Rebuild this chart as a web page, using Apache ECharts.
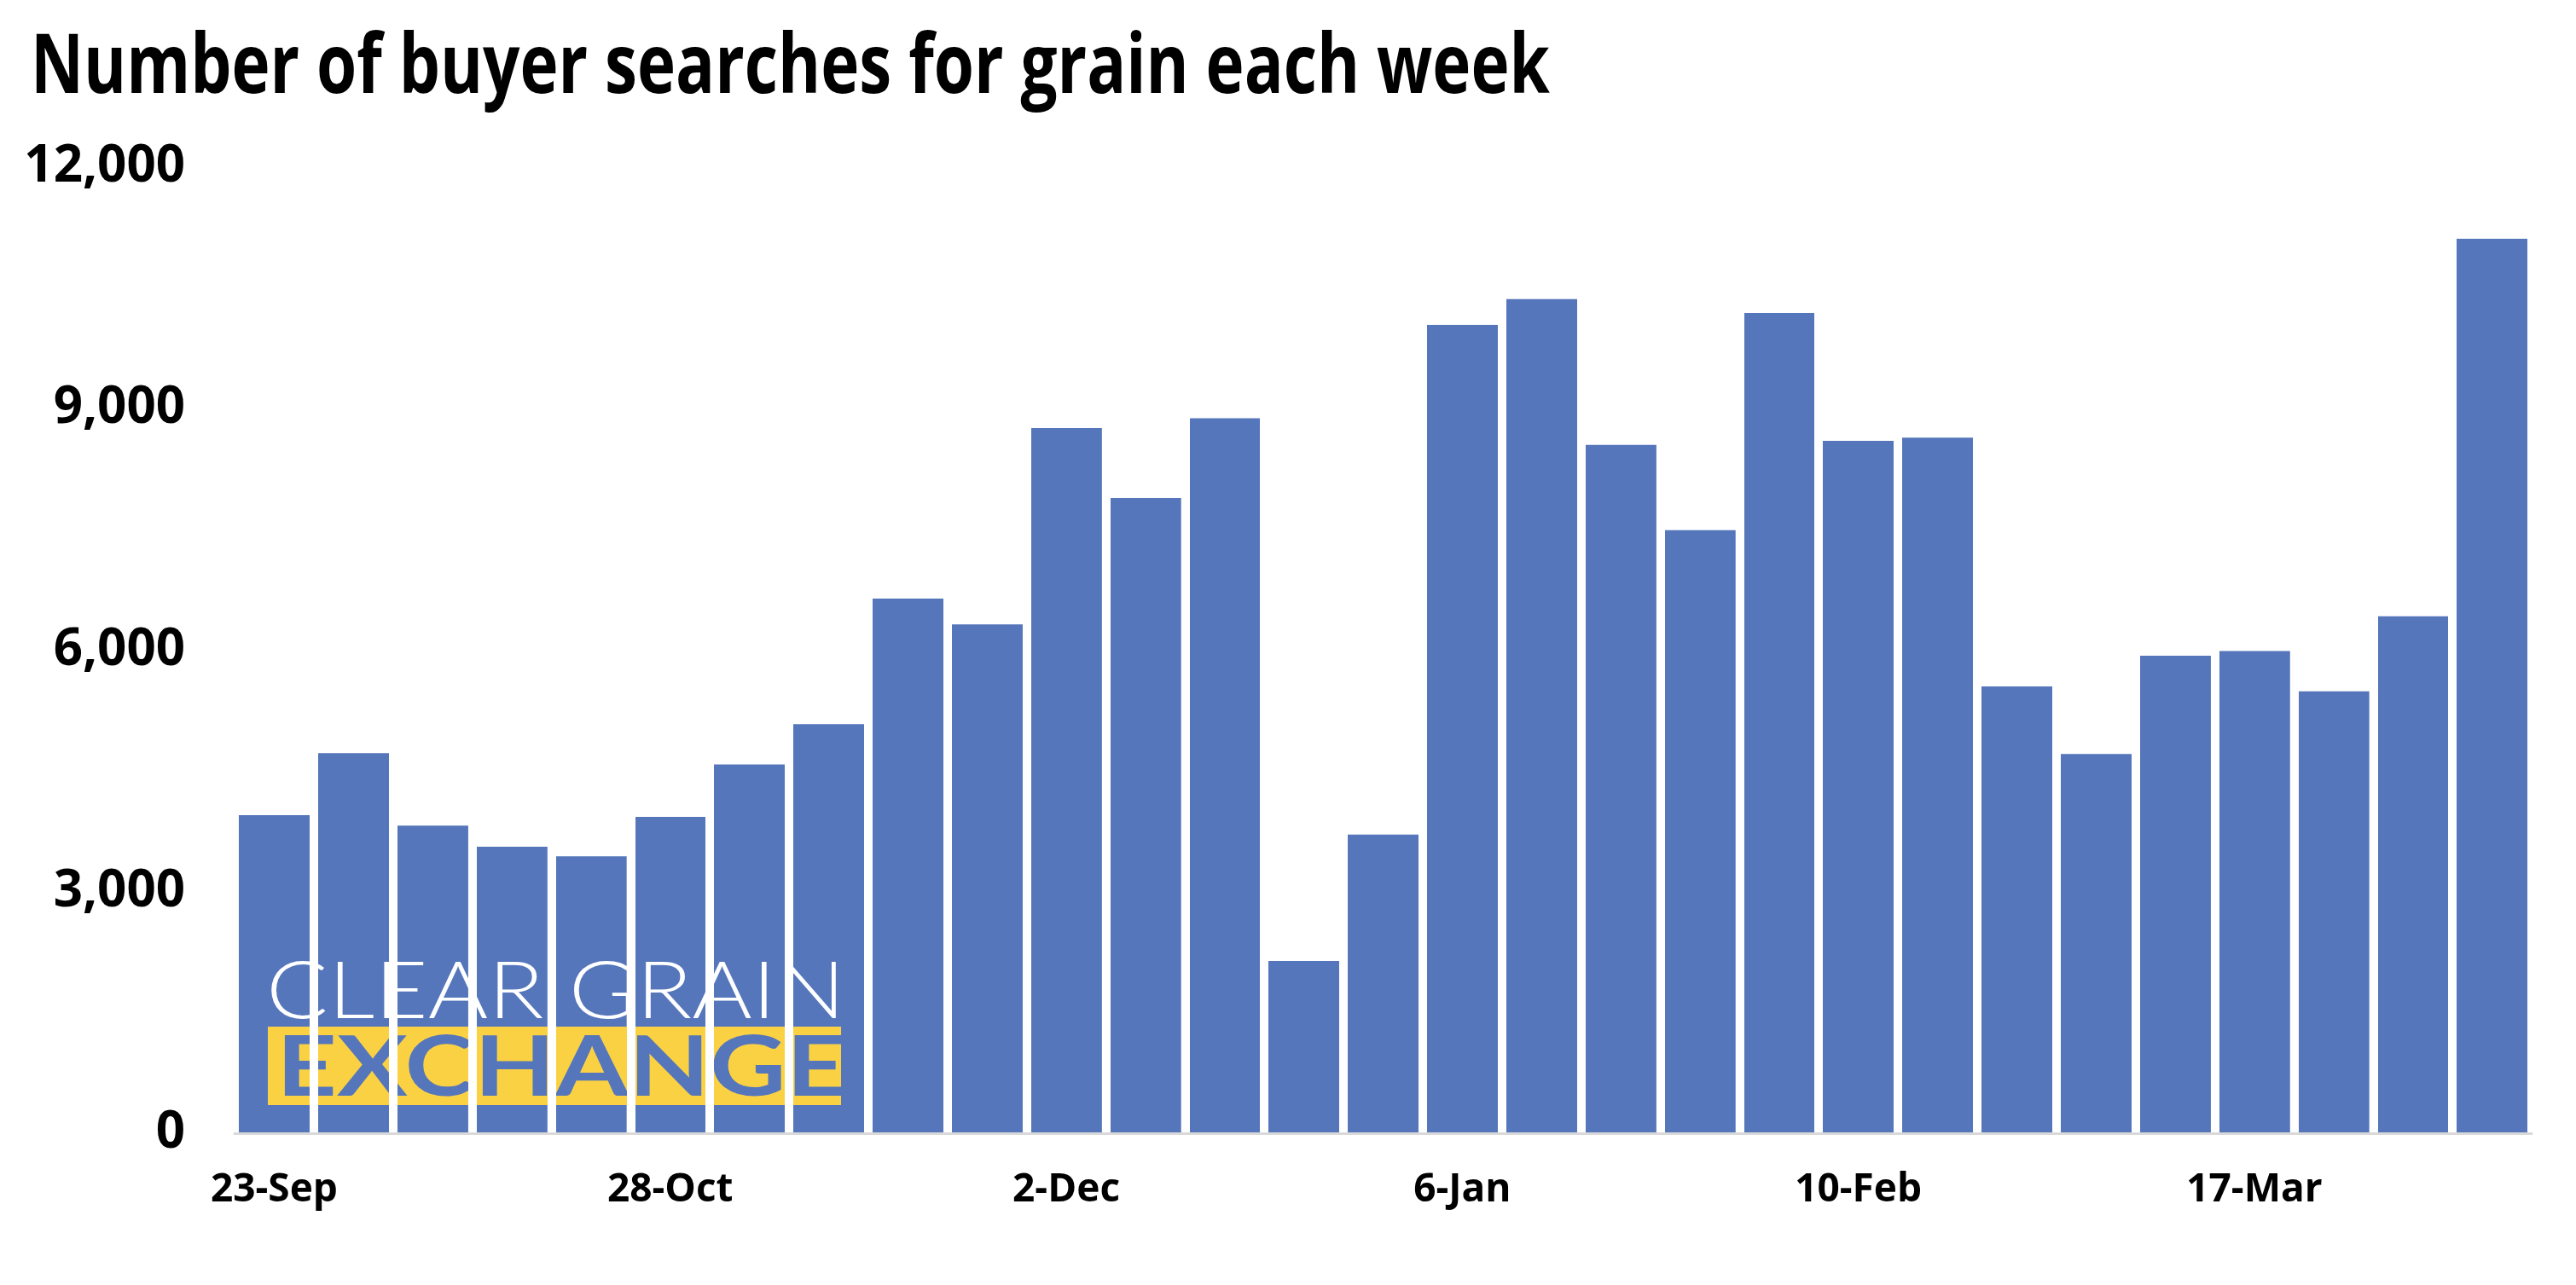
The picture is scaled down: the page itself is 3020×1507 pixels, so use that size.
<!DOCTYPE html>
<html>
<head>
<meta charset="utf-8">
<script src="https://cdn.jsdelivr.net/npm/echarts@6/dist/echarts.min.js"></script>
<style>
html,body{margin:0;padding:0;background:#fff;}
#chart{width:3020px;height:1507px;}
</style>
</head>
<body>
<div id="chart"></div>
<script>
const weeks = ['23-Sep','30-Sep','7-Oct','14-Oct','21-Oct','28-Oct','4-Nov','11-Nov','18-Nov','25-Nov',
  '2-Dec','9-Dec','16-Dec','23-Dec','30-Dec','6-Jan','13-Jan','20-Jan','27-Jan','3-Feb',
  '10-Feb','17-Feb','24-Feb','3-Mar','10-Mar','17-Mar','24-Mar','31-Mar','7-Apr'];
const searches = [3950,4720,3820,3560,3440,3930,4580,5080,6640,6320,
  8760,7890,8880,2140,3710,10040,10360,8550,7490,10190,
  8600,8640,5550,4710,5930,5990,5490,6420,11110];
const yTicks = [0,3000,6000,9000,12000];
const titleText = 'Number of buyer searches for grain each week';

const FONT = '"Open Sans","Noto Sans",sans-serif';
const BLUE = '#5576BB';
const YELLOW = '#FBD144';

const chart = echarts.init(document.getElementById('chart'));
chart.setOption({
  backgroundColor: '#fff',
  animation: false,
  grid: {left: 275, right: 52, top: 196, bottom: 178, containLabel: false},
  xAxis: {
    type: 'category',
    data: weeks,
    z: 10,
    axisLine: {show: true, lineStyle: {color: '#D9D9D9', width: 3}},
    axisTick: {show: false},
    axisLabel: {interval: 4, margin: 44, fontFamily: FONT, fontWeight: 'bold', fontSize: 46, color: '#000'},
    splitLine: {show: true, interval: 0, lineStyle: {color: '#fff', width: 10}}
  },
  yAxis: {
    type: 'value',
    min: yTicks[0], max: yTicks[yTicks.length-1], interval: yTicks[1]-yTicks[0],
    axisLine: {show: false},
    axisTick: {show: false},
    splitLine: {show: false},
    axisLabel: {
      margin: 58, fontFamily: FONT, fontWeight: 'bold', fontSize: 60, color: '#000',
      formatter: v => v.toLocaleString('en-US')
    }
  },
  series: [{
    type: 'bar',
    data: searches,
    barCategoryGap: '10%',
    itemStyle: {color: BLUE},
    z: 2
  }],
  graphic: {
    z: 5,
    elements: [
      {type: 'text', x: 36, y: 34, scaleX: 0.795, z: 6,
       style: {text: titleText, fill: '#000', font: 'bold 96px "Open Sans", sans-serif', textVerticalAlign: 'top'}},
      {type: 'rect', x: 314, y: 1204, shape: {width: 672, height: 92}, style: {fill: YELLOW}, z: 5},
      {type: 'text', x: 312, y: 1118, scaleX: 1.17, z: 6,
       style: {text: 'CLEAR GRAIN', fill: '#fff', font: '300 92px Lato, "Open Sans", sans-serif', textVerticalAlign: 'top'}},
      {type: 'text', x: 324, y: 1204, scaleX: 1.26, z: 6,
       style: {text: 'EXCHANGE', fill: BLUE, font: 'bold 98px Lato, "Open Sans", sans-serif', textVerticalAlign: 'top'}}
    ]
  }
});
</script>
</body>
</html>
